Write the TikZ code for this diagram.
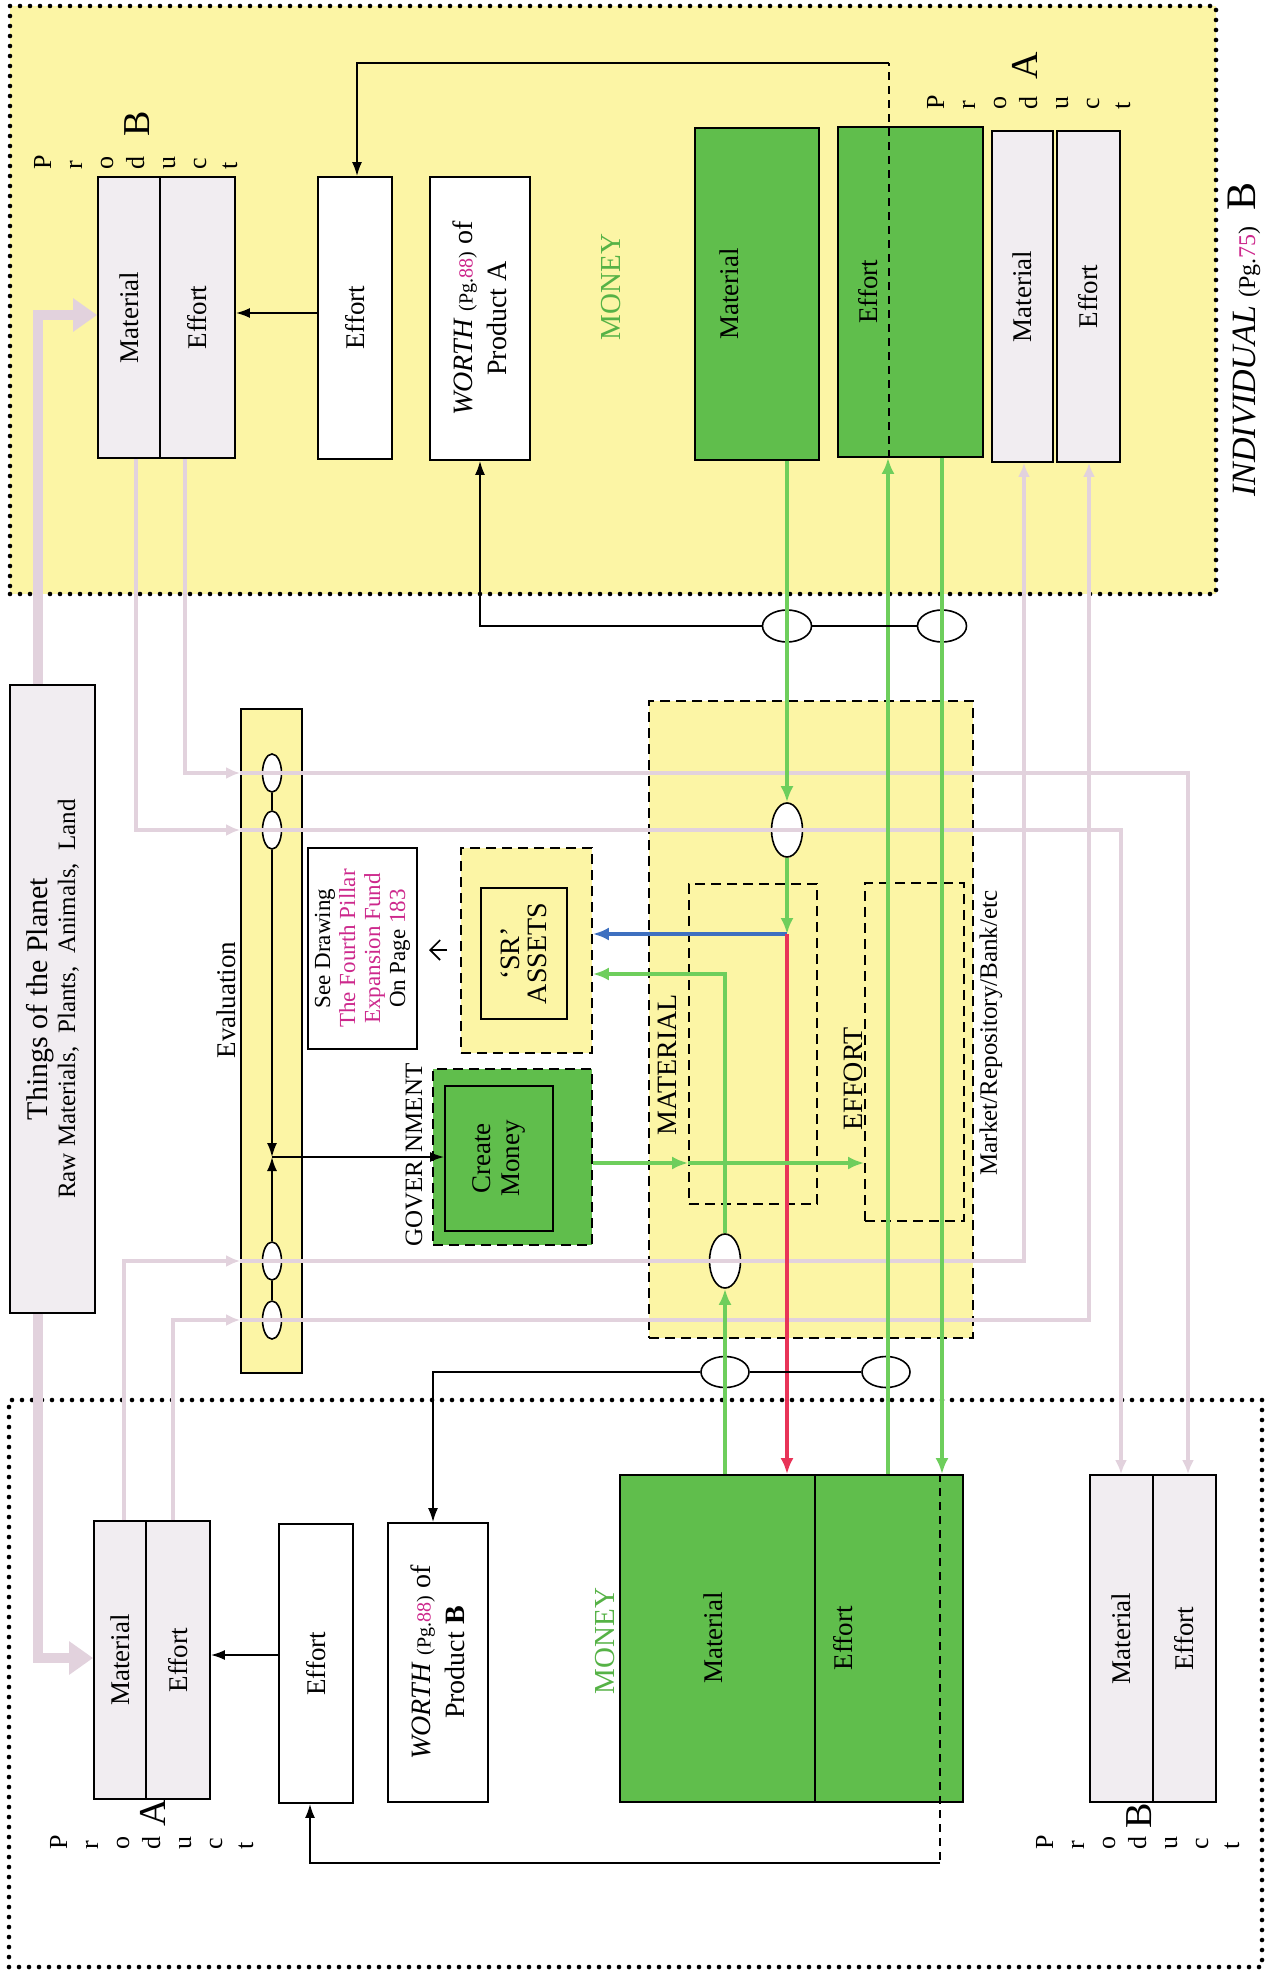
\documentclass[tikz,border=0pt]{standalone}
\usepackage{fontspec}
\setmainfont{Liberation Serif}
\usetikzlibrary{shapes.geometric,fit,arrows.meta}
\definecolor{ylw}{RGB}{252,245,165}
\definecolor{gfill}{RGB}{96,190,76}
\definecolor{gline}{RGB}{110,206,92}
\definecolor{pinkc}{RGB}{226,210,221}
\definecolor{greyf}{RGB}{241,237,241}
\definecolor{mag}{RGB}{205,40,140}
\definecolor{redl}{RGB}{232,52,88}
\definecolor{bluel}{RGB}{62,112,192}
\definecolor{moneyg}{RGB}{86,178,70}
\newcommand\myfs{\fontsize{13.5}{16}\selectfont}
\newcommand\mysm{\fontsize{10}{11}\selectfont}
\newcommand\seefs{\fontsize{11.5}{12.5}\selectfont}
\newcommand\prodfs{\fontsize{13}{13}\selectfont}
\newcommand\bigfs{\fontsize{19}{19}\selectfont}
\begin{document}
\begin{tikzpicture}[x=0.5pt,y=-0.5pt,
  region/.style={draw, line width=2.3pt, dash pattern=on 0pt off 5pt, line cap=round, inner sep=0pt},
  bx/.style={draw, line width=0.9pt, inner sep=0pt},
  dbx/.style={draw, line width=0.9pt, dash pattern=on 5pt off 3pt, inner sep=0pt},
  lbl/.style={rotate=90, font=\myfs, align=center, inner sep=0pt},
  ell/.style={ellipse, draw, fill=white, line width=0.8pt, inner sep=0pt},
  pka/.style={draw=pinkc, line width=2pt, -{Latex[length=7pt,width=6pt]}},
  thk/.style={draw=pinkc, line width=5pt, -{Triangle[length=12pt,width=16pt]}},
  ga/.style={draw=gline, line width=2.3pt, -{Latex[length=8pt,width=6.5pt]}},
  ba/.style={line width=0.9pt, -{Latex[length=7pt,width=5pt]}},
  bl/.style={line width=0.9pt},
  prodletter/.style={rotate=90, font=\prodfs, inner sep=0pt, anchor=base west},
  bigletter/.style={rotate=90, font=\bigfs, inner sep=0pt, anchor=base west},
]
\useasboundingbox (0,0) rectangle (1264,1973);
\fill[white] (0,0) rectangle (1264,1973);

% ---------- regions ----------
\node[region, fill=ylw, fit={(10,6) (1216,594)}] (indB) {};
\node[region, fill=white, fit={(9,1400) (1262,1967)}] (indA) {};

% ---------- top (individual B) boxes ----------
\node[bx, fill=greyf, fit={(98,177) (160,458)}] (pBtM) {};
\node[bx, fill=greyf, fit={(160,177) (235,458)}] (pBtE) {};
\node[bx, fill=white, fit={(318,177) (392,459)}] (effT) {};
\node[bx, fill=white, fit={(430,177) (530,460)}] (worthT) {};
\node[bx, fill=gfill, fit={(695,128) (819,460)}] (gMatT) {};
\node[bx, fill=gfill, fit={(838,127) (983,457)}] (gEffT) {};
\node[bx, fill=greyf, fit={(992,131) (1053,462)}] (pAtM) {};
\node[bx, fill=greyf, fit={(1057,131) (1120,462)}] (pAtE) {};

% ---------- bottom (individual A) boxes ----------
\node[bx, fill=greyf, fit={(94,1521) (146,1799)}] (pAbM) {};
\node[bx, fill=greyf, fit={(146,1521) (210,1799)}] (pAbE) {};
\node[bx, fill=white, fit={(279,1524) (353,1803)}] (effB) {};
\node[bx, fill=white, fit={(388,1523) (488,1802)}] (worthB) {};
\node[bx, fill=gfill, fit={(620,1475) (815,1802)}] (gMatB) {};
\node[bx, fill=gfill, fit={(815,1475) (963,1802)}] (gEffB) {};
\node[bx, fill=greyf, fit={(1090,1475) (1153,1802)}] (pBbM) {};
\node[bx, fill=greyf, fit={(1153,1475) (1216,1802)}] (pBbE) {};

% ---------- middle ----------
\node[bx, fill=greyf, fit={(10,685) (95,1313)}] (things) {};
\node[bx, fill=ylw, fit={(241,709) (302,1373)}] (eval) {};
\node[bx, fill=white, fit={(308,848) (417,1049)}] (see) {};
\node[dbx, fill=ylw, fit={(461,848) (592,1053)}] (srOuter) {};
\node[bx, fill=ylw, fit={(481,888) (567,1019)}] (srInner) {};
\node[dbx, fill=gfill, fit={(433,1069) (592,1245)}] (govOuter) {};
\node[bx, fill=gfill, fit={(445,1086) (553,1231)}] (cm) {};
\node[dbx, fill=ylw, fit={(649,701) (973,1338)}] (market) {};
\node[dbx, fit={(689,884) (817,1204)}] (matIn) {};
\node[dbx, fit={(865,883) (964,1221)}] (effIn) {};

% ---------- ellipses ----------
\node[ell, minimum width=24.5pt, minimum height=16pt] (eT1) at (787,626) {};
\node[ell, minimum width=24.5pt, minimum height=16pt] (eT2) at (942,626) {};
\node[ell, minimum width=24pt, minimum height=15.5pt] (eB1) at (725,1372) {};
\node[ell, minimum width=24pt, minimum height=15.5pt] (eB2) at (886,1372) {};
\node[ell, minimum width=15.5pt, minimum height=27pt] (mE1) at (787,830) {};
\node[ell, minimum width=15.5pt, minimum height=27pt] (mE2) at (725,1261) {};
\node[ell, minimum width=9.5pt, minimum height=19pt] (ev1) at (272,773) {};
\node[ell, minimum width=9.5pt, minimum height=19pt] (ev2) at (272,830) {};
\node[ell, minimum width=9.5pt, minimum height=19pt] (ev3) at (272,1261) {};
\node[ell, minimum width=9.5pt, minimum height=19pt] (ev4) at (272,1320) {};

% ---------- pink flows ----------
\draw[thk] (things.north -| 38,0) -- (38,315) -- (pBtM.west |- 0,315);
\draw[thk] (things.south -| 38,0) -- (38,1658) -- (pAbM.west |- 0,1658);

\draw[pka] (pBtE.south -| 185,0) -- (185,773) -- (eval.west |- 0,773);
\draw[pka] (eval.west |- 0,773) -- (1188,773) -- (pBbE.north -| 1188,0);
\draw[pka] (pBtM.south -| 136,0) -- (136,830) -- (eval.west |- 0,830);
\draw[pka] (eval.west |- 0,830) -- (1121,830) -- (pBbM.north -| 1121,0);
\draw[pka] (pAbM.north -| 124,0) -- (124,1261) -- (eval.west |- 0,1261);
\draw[pka] (eval.west |- 0,1261) -- (1024,1261) -- (pAtM.south -| 1024,0);
\draw[pka] (pAbE.north -| 173,0) -- (173,1320) -- (eval.west |- 0,1320);
\draw[pka] (eval.west |- 0,1320) -- (1089,1320) -- (pAtE.south -| 1089,0);

% ---------- evaluation internals ----------
\coordinate (evx) at (272,1157);
\draw[bl] (ev1) -- (ev2);
\draw[bl] (ev3) -- (ev4);
\draw[ba] (ev2.south) -- (evx);
\draw[ba] (ev3.north) -- (evx);
\draw[ba] (evx) -- (cm.west |- evx);

% ---------- green flows ----------
\coordinate (split) at (787,934);
\draw[ga] (gMatT.south -| split) -- (mE1.north);
\draw[ga] (mE1.south) -- (split);
\draw[draw=bluel, line width=2.3pt, -{Latex[length=8pt,width=6.5pt]}] (split) -- (srOuter.east |- split);
\draw[draw=redl, line width=2.3pt, -{Latex[length=8pt,width=6.5pt]}] (split) -- (gMatB.north -| split);
\draw[ga] (gEffB.north -| 888,0) -- (gEffT.south -| 888,0);
\draw[ga] (gEffT.south -| 942,0) -- (gEffB.north -| 942,0);
\draw[ga] (gMatB.north -| mE2) -- (mE2.south);
\draw[ga] (mE2.north) -- (725,974) -- (srOuter.east |- 0,974);
\coordinate (cmo) at (govOuter.east |- 0,1163);
\draw[ga] (cmo) -- (matIn.west |- cmo);
\draw[ga] (matIn.west |- cmo) -- (effIn.west |- cmo);

% ---------- black flows ----------
\draw[bl] (eT1) -- (eT2);
\draw[ba] (eT1.west) -- (worthT.south |- eT1.west) -- (worthT.south);
\draw[bl] (eB1) -- (eB2);
\draw[ba] (eB1.west) -- (433,1372) -- (worthB.north -| 433,0);
\draw[bl, dash pattern=on 4pt off 3pt] (gEffT.south -| 889,0) -- (889,63);
\draw[ba] (889,63) -- (357,63) -- (effT.north -| 357,0);
\draw[bl, dash pattern=on 4pt off 3pt] (gEffB.north -| 940,0) -- (940,1863);
\draw[ba] (940,1863) -- (310,1863) -- (effB.south -| 310,0);
\draw[ba] (effT.west |- 0,313) -- (pBtE.east |- 0,313);
\draw[ba] (effB.west |- 0,1655) -- (pAbE.east |- 0,1655);
\draw[line width=0.8pt, -{Straight Barb[length=5pt,width=10pt]}] (447,950) -- (429,950);

% ---------- labels ----------
\node[lbl] (tPBM) at (pBtM) {Material};
\node[lbl] (tPBE) at (pBtE) {Effort};
\node[lbl] (tEffT) at (effT) {Effort};
\node[lbl, font=\fontsize{14}{17}\selectfont] (tWT) at (worthT) {\textit{WORTH} {\mysm(Pg.\textcolor{mag}{88})} of\\Product A};
\node[lbl, text=moneyg, font=\fontsize{14.5}{16}\selectfont] (tMonT) at (611,287) {MONEY};
\node[lbl] (tGMT) at (729,294) {Material};
\node[lbl] (tGET) at (868,292) {Effort};
\node[lbl] (tPAM) at (pAtM) {Material};
\node[lbl] (tPAE) at (pAtE) {Effort};

\node[lbl] (tPAbM) at (pAbM) {Material};
\node[lbl] (tPAbE) at (pAbE) {Effort};
\node[lbl] (tEffB) at (effB) {Effort};
\node[lbl, font=\fontsize{14}{17}\selectfont] (tWB) at (worthB) {\textit{WORTH} {\mysm(Pg.\textcolor{mag}{88})} of\\Product \textbf{B}};
\node[lbl, text=moneyg, font=\fontsize{14.5}{16}\selectfont] (tMonB) at (605,1641) {MONEY};
\node[lbl] (tGMB) at (713,1638) {Material};
\node[lbl] (tGEB) at (843,1638) {Effort};
\node[lbl] (tPBbM) at (pBbM) {Material};
\node[lbl] (tPBbE) at (pBbE) {Effort};

\node[lbl, font=\fontsize{12.5}{14}\selectfont] (tThings) at (things) {{\fontsize{15}{14}\selectfont Things of the Planet}\\Raw Materials,\ \ Plants,\ \ Animals,\ \ Land};
\node[lbl] (tEval) at (226,1000) {Evaluation};
\node[lbl, font=\seefs] (tSee) at (see) {See Drawing\\\textcolor{mag}{The Fourth Pillar}\\\textcolor{mag}{Expansion Fund}\\On Page \textcolor{mag}{183}};
\node[lbl, font=\fontsize{14}{13.5}\selectfont] (tSR) at (srInner) {‘SR’\\ASSETS};
\node[lbl, font=\fontsize{13.5}{14.5}\selectfont] (tCM) at (cm) {Create\\Money};
\node[lbl, font=\fontsize{12.5}{14}\selectfont] (tGov) at (414,1155) {GOVER\hspace{4pt}NMENT};
\node[lbl, font=\fontsize{14}{16}\selectfont] (tMat) at (667,1065) {MATERIAL};
\node[lbl, font=\fontsize{14}{16}\selectfont] (tEff) at (853,1079) {EFFORT};
\node[lbl, font=\fontsize{12.5}{14}\selectfont] (tMkt) at (991,1033) {Market/Repository/Bank/etc};
\node[rotate=90, inner sep=0pt, anchor=base west, font=\fontsize{17}{18}\selectfont] (tInd) at (1255,497) {\textit{INDIVIDUAL}\hspace{4pt}{\fontsize{12}{13}\selectfont(Pg.\textcolor{mag}{75})}\hspace{8pt}{\fontsize{21}{22}\selectfont B}};

% ---------- "Product" letter columns ----------
\foreach \c [count=\i from 0] in {P,r,o,d,u,c,t} {
  \node[prodletter] (tb\i) at (51+31*\i,170) {\c};
  \node[prodletter] (ta\i) at (944+31*\i,110) {\c};
  \node[prodletter] (ba\i) at (67+31*\i,1850) {\c};
  \node[prodletter] (bb\i) at (1053+31*\i,1850) {\c};
}
\node[bigletter] (bigTB) at (149,137) {B};
\node[bigletter] (bigTA) at (1037,80) {A};
\node[bigletter] (bigBA) at (165,1827) {A};
\node[bigletter] (bigBB) at (1151,1829) {B};
\end{tikzpicture}
\end{document}
